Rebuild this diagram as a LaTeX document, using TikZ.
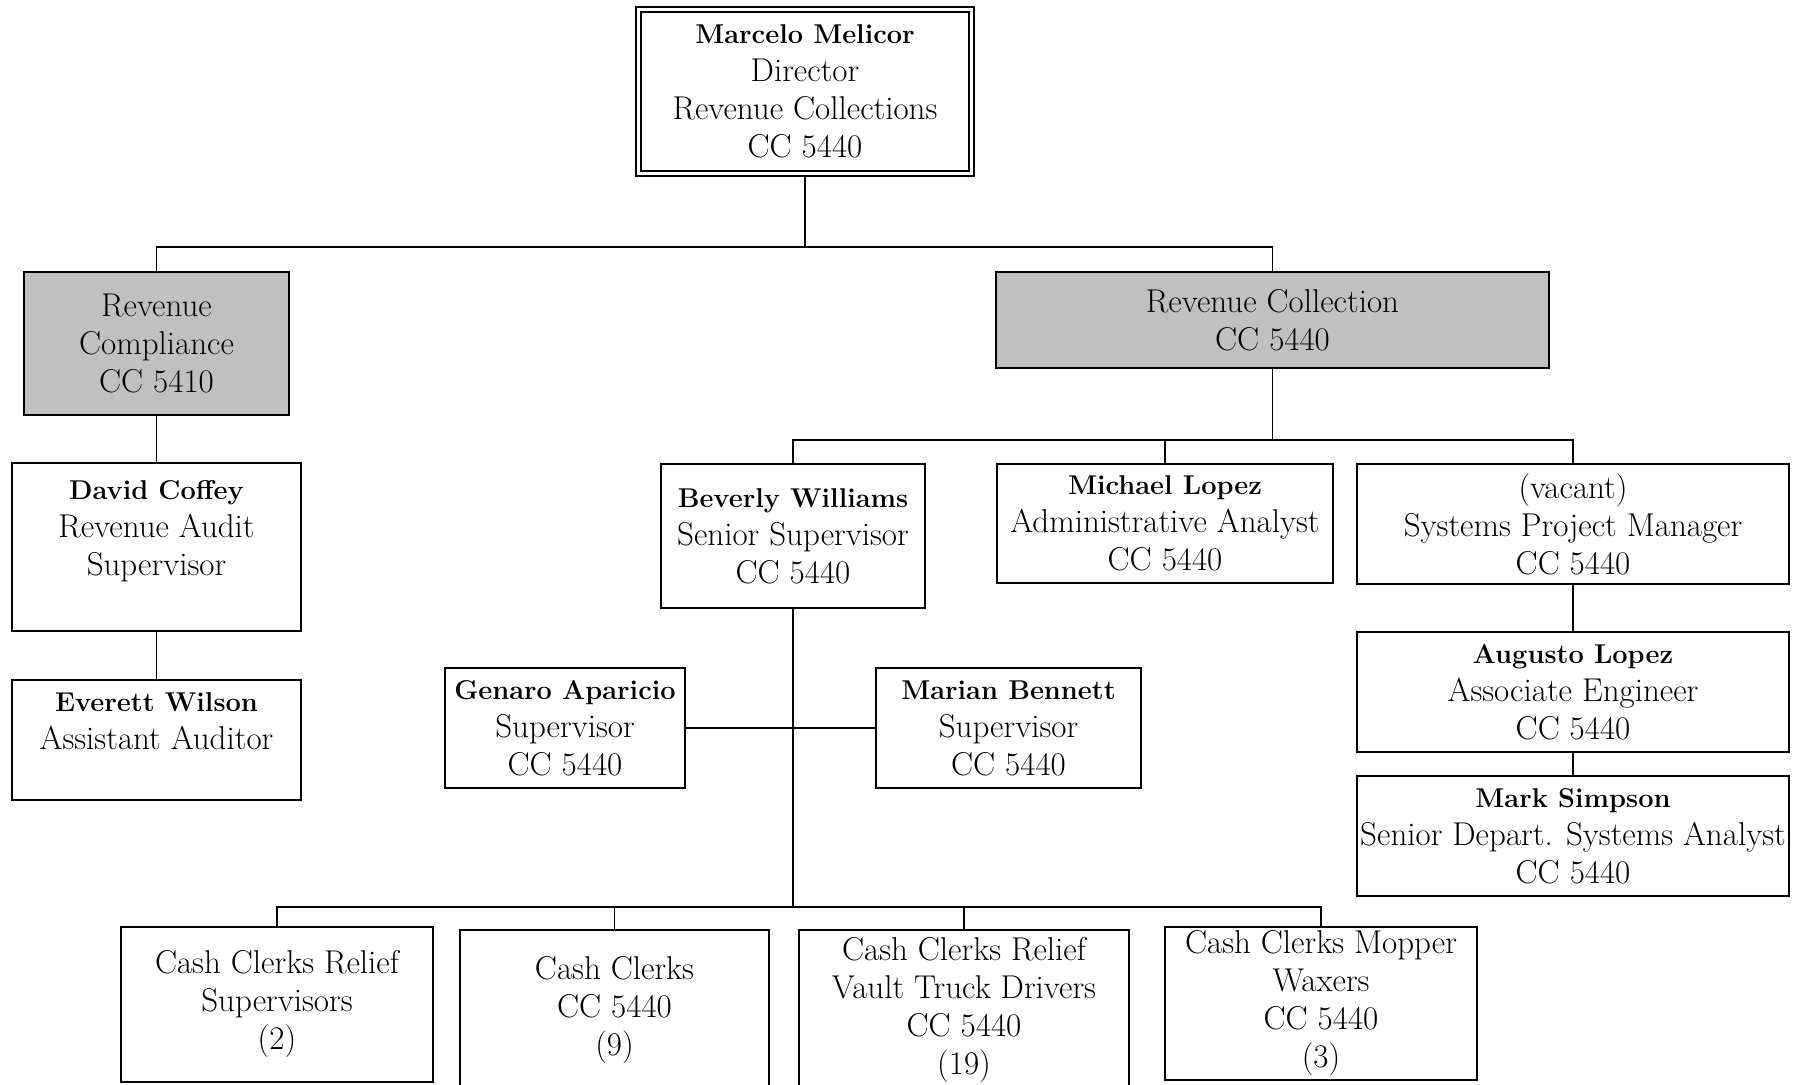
\documentclass[tikz,border=0pt]{standalone}
\usepackage{fontspec}
\setmainfont{Latin Modern Roman}
\usepackage{tikz}
\definecolor{boxgray}{HTML}{C0C0C0}
\newcommand\pname[1]{{\fontsize{13.6}{19}\selectfont\bfseries #1}}
\begin{document}
\begin{tikzpicture}[x=0.5pt,y=-0.5pt,
  box/.style={draw, rectangle, line width=1.2pt, inner sep=0pt, align=center,
    font=\fontsize{16.5}{19}\selectfont},
  graybox/.style={box, fill=boxgray},
  topbox/.style={box, double, double distance=1.6pt, line width=0.8pt, outer sep=1.6pt},
  conn/.style={line width=0.9pt}]
\useasboundingbox (0,0) rectangle (1807,1085);
\clip (0,0) rectangle (1807,1085);
\fill[white] (0,0) rectangle (1807,1085);

% nodes
\node[topbox, minimum width=166.5pt, minimum height=82pt] (top) at (805,91.5)
  {\pname{Marcelo Melicor}\\Director\\Revenue Collections\\CC 5440};
\node[graybox, minimum width=132.5pt, minimum height=71.5pt] (rc) at (156.5,343.5)
  {Revenue\\Compliance\\CC 5410};
\node[box, minimum width=144.5pt, minimum height=84pt] (dc) at (156.5,547)
  {\pname{David Coffey}\\Revenue Audit\\Supervisor\\\mbox{}};
\node[box, minimum width=144.5pt, minimum height=60pt] (ew) at (156.5,740)
  {\pname{Everett Wilson}\\Assistant Auditor\\\mbox{}};
\node[graybox, minimum width=276.5pt, minimum height=48pt] (rcol) at (1272.5,320)
  {Revenue Collection\\CC 5440};
\node[box, minimum width=132pt, minimum height=72pt] (bw) at (793,536)
  {\pname{Beverly Williams}\\Senior Supervisor\\CC 5440};
\node[box, minimum width=168pt, minimum height=59.5pt] (ml) at (1165,523.5)
  {\pname{Michael Lopez}\\Administrative Analyst\\CC 5440};
\node[box, minimum width=216pt, minimum height=60pt] (vac) at (1573,524)
  {(vacant)\\Systems Project Manager\\CC 5440};
\node[box, minimum width=216pt, minimum height=60pt] (al) at (1573,692)
  {\pname{Augusto Lopez}\\Associate Engineer\\CC 5440};
\node[box, minimum width=216pt, minimum height=60pt] (ms) at (1573,836)
  {\pname{Mark Simpson}\\Senior Depart. Systems Analyst\\CC 5440};
\node[box, minimum width=120pt, minimum height=60pt] (ga) at (565,728)
  {\pname{Genaro Aparicio}\\Supervisor\\CC 5440};
\node[box, minimum width=132.5pt, minimum height=60pt] (mb) at (1008.5,728)
  {\pname{Marian Bennett}\\Supervisor\\CC 5440};
\node[box, minimum width=156pt, minimum height=77.5pt] (c1) at (277,1004.5)
  {Cash Clerks Relief\\Supervisors\\(2)};
\node[box, minimum width=154.5pt, minimum height=80pt] (c2) at (614.5,1010)
  {Cash Clerks\\CC 5440\\(9)};
\node[box, minimum width=165pt, minimum height=80pt] (c3) at (964,1010)
  {Cash Clerks Relief\\Vault Truck Drivers\\CC 5440\\(19)};
\node[box, minimum width=156pt, minimum height=76.5pt] (c4) at (1321,1003.5)
  {Cash Clerks Mopper\\Waxers\\CC 5440\\(3)};

% connectors
\coordinate (j1) at (805,247);
\coordinate (j2) at (1272.5,440);
\coordinate (j3) at (793,907);
\draw[conn] (top.south) -- (j1);
\draw[conn] (rc.north) |- (j1) -| (rcol.north);
\draw[conn] (rc.south) -- (rc.south |- dc.north);
\draw[conn] (dc.south) -- (dc.south |- ew.north);
\draw[conn] (rcol.south) -- (j2);
\draw[conn] (bw.north) |- (j2) -| (vac.north);
\draw[conn] (ml.north) -- (ml.north |- j2);
\draw[conn] (vac.south) -- (al.north);
\draw[conn] (al.south) -- (ms.north);
\draw[conn] (bw.south) -- (j3);
\draw[conn] (ga.east) -- (mb.west);
\draw[conn] (c1.north) |- (j3) -| (c4.north);
\draw[conn] (c2.north) -- (c2.north |- j3);
\draw[conn] (c3.north) -- (c3.north |- j3);
\end{tikzpicture}
\end{document}
